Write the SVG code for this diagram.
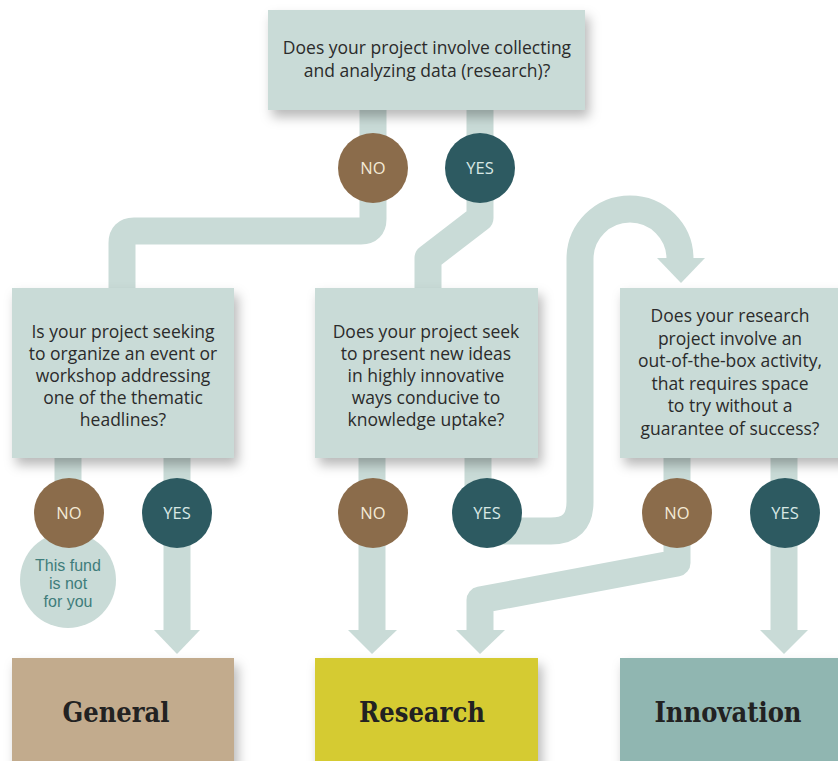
<svg xmlns="http://www.w3.org/2000/svg" width="838" height="761" viewBox="0 0 838 761">
<defs>
<filter id="sh" x="-10%" y="-10%" width="130%" height="140%">
<feDropShadow dx="4" dy="7" stdDeviation="6" flood-color="#000" flood-opacity="0.28"/>
</filter>
<style>
.band{fill:none;stroke:#c9dbd7;stroke-width:27;stroke-linejoin:round}
.head{fill:#c9dbd7}
.box{fill:#c9dbd7;filter:url(#sh)}
.q{font-family:"Open Sans","Noto Sans",sans-serif;font-size:17.5px;fill:#2b2b2b;text-anchor:middle}
.no{fill:#8b6c4b}
.yes{fill:#2d5a61}
.lbl{font-family:"Open Sans","Noto Sans",sans-serif;font-size:16.5px;text-anchor:middle}
.lno{fill:#f4ead6}
.lyes{fill:#d8e8e5}
.fund{font-family:"Liberation Sans",Arial,sans-serif;font-size:16px;fill:#3f7d7b;text-anchor:middle}
.out{font-family:"DejaVu Serif Condensed","DejaVu Serif",serif;font-weight:bold;font-size:27px;fill:#222;text-anchor:middle}
</style>
</defs>
<rect width="838" height="761" fill="#fff"/>
<g id="connectors">
<path class="band" d="M373 110 V219 Q373 231 361 231 H134 Q122 231 122 243 V292"/>
<path class="band" d="M480 110 V218 L428 258 V292"/>
<path class="band" d="M68 455 V500"/>
<path class="band" d="M177 455 V632"/>
<polygon class="head" points="154,630 200,630 177,654"/>
<path class="band" d="M372 455 V632"/>
<polygon class="head" points="348,630 397,630 372,654"/>
<path class="band" d="M478 455 V500"/>
<path class="band" d="M495 531 H551 Q580 531 580 502 V259 A50 50 0 0 1 680 259 V262"/>
<polygon class="head" points="657,258 705,258 681,283"/>
<path class="band" d="M677 455 V563 L480 600 V632"/>
<polygon class="head" points="456,630 505,630 480,654"/>
<path class="band" d="M784 455 V632"/>
<polygon class="head" points="760,630 808,630 784,654"/>
</g>
<g id="q1">
<rect class="box" x="268" y="10" width="317" height="100"/>
<text class="q" x="427" y="54">Does your project involve collecting</text>
<text class="q" x="427" y="77">and analyzing data (research)?</text>
</g>
<g id="q1-no"><circle class="no" cx="373" cy="168" r="35"/><text class="lbl lno" x="373" y="174">NO</text></g>
<g id="q1-yes"><circle class="yes" cx="480" cy="168" r="35"/><text class="lbl lyes" x="480" y="174">YES</text></g>
<g id="q2">
<rect class="box" x="12" y="288" width="222" height="170"/>
<text class="q" x="123" y="338">Is your project seeking</text>
<text class="q" x="123" y="360">to organize an event or</text>
<text class="q" x="123" y="382">workshop addressing</text>
<text class="q" x="123" y="404">one of the thematic</text>
<text class="q" x="123" y="426">headlines?</text>
</g>
<g id="notforyou">
<circle cx="68" cy="580" r="48" fill="#c9dbd7"/>
<text class="fund" x="68" y="571">This fund</text>
<text class="fund" x="68" y="589">is not</text>
<text class="fund" x="68" y="607">for you</text>
</g>
<g id="q2-no"><circle class="no" cx="69" cy="513" r="35"/><text class="lbl lno" x="69" y="519">NO</text></g>
<g id="q2-yes"><circle class="yes" cx="177" cy="513" r="35"/><text class="lbl lyes" x="177" y="519">YES</text></g>
<g id="q3">
<rect class="box" x="315" y="288" width="223" height="170"/>
<text class="q" x="426" y="338">Does your project seek</text>
<text class="q" x="426" y="360">to present new ideas</text>
<text class="q" x="426" y="382">in highly innovative</text>
<text class="q" x="426" y="404">ways conducive to</text>
<text class="q" x="426" y="426">knowledge uptake?</text>
</g>
<g id="q3-no"><circle class="no" cx="373" cy="513" r="35"/><text class="lbl lno" x="373" y="519">NO</text></g>
<g id="q3-yes"><circle class="yes" cx="487" cy="513" r="35"/><text class="lbl lyes" x="487" y="519">YES</text></g>
<g id="q4">
<rect class="box" x="620" y="288" width="230" height="170"/>
<text class="q" x="730" y="322">Does your research</text>
<text class="q" x="730" y="344.5">project involve an</text>
<text class="q" x="730" y="367">out-of-the-box activity,</text>
<text class="q" x="730" y="389.5">that requires space</text>
<text class="q" x="730" y="412">to try without a</text>
<text class="q" x="730" y="434.5">guarantee of success?</text>
</g>
<g id="q4-no"><circle class="no" cx="677" cy="513" r="35"/><text class="lbl lno" x="677" y="519">NO</text></g>
<g id="q4-yes"><circle class="yes" cx="785" cy="513" r="35"/><text class="lbl lyes" x="785" y="519">YES</text></g>
<g id="general">
<rect x="12" y="658" width="222" height="110" fill="#c2ab8d" filter="url(#sh)"/>
<text class="out" x="116" y="722">General</text>
</g>
<g id="research">
<rect x="315" y="658" width="223" height="110" fill="#d5cb33" filter="url(#sh)"/>
<text class="out" x="422" y="722">Research</text>
</g>
<g id="innovation">
<rect x="620" y="658" width="230" height="110" fill="#90b6b1" filter="url(#sh)"/>
<text class="out" x="728" y="722">Innovation</text>
</g>
</svg>
